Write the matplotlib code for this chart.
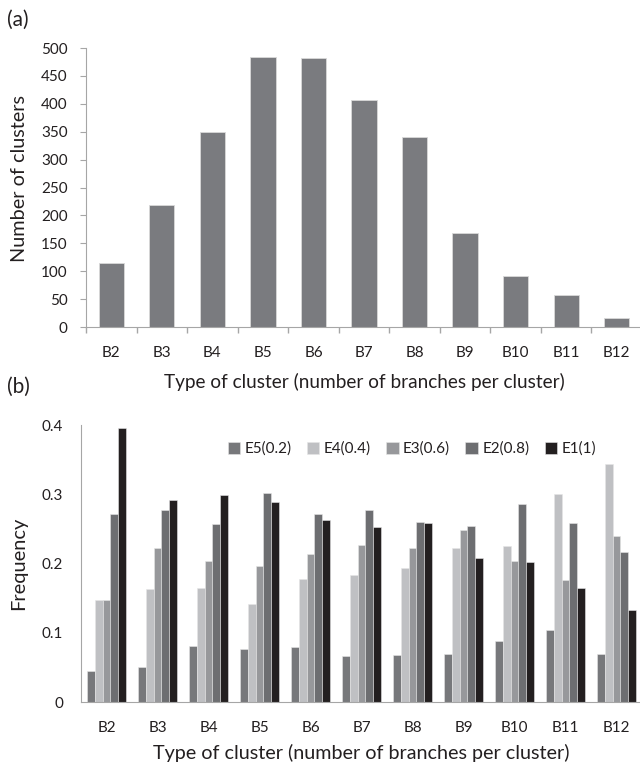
import matplotlib
matplotlib.use("Agg")
import matplotlib.pyplot as plt
import numpy as np

plt.rcParams['font.family'] = ['Lato', 'DejaVu Sans']

categories = ["B2", "B3", "B4", "B5", "B6", "B7", "B8", "B9", "B10", "B11", "B12"]
cluster_counts = [115, 219, 350, 483, 482, 407, 341, 168, 92, 57, 16]

series_names = ["E5(0.2)", "E4(0.4)", "E3(0.6)", "E2(0.8)", "E1(1)"]
e5 = [0.045, 0.051, 0.081, 0.076, 0.079, 0.066, 0.068, 0.070, 0.088, 0.104, 0.070]
e4 = [0.147, 0.163, 0.165, 0.141, 0.177, 0.183, 0.194, 0.223, 0.225, 0.301, 0.344]
e3 = [0.147, 0.223, 0.203, 0.196, 0.214, 0.227, 0.222, 0.248, 0.204, 0.176, 0.239]
e2 = [0.271, 0.277, 0.257, 0.302, 0.271, 0.277, 0.260, 0.254, 0.286, 0.259, 0.217]
e1 = [0.395, 0.292, 0.299, 0.289, 0.263, 0.252, 0.259, 0.208, 0.202, 0.165, 0.133]
series_values = [e5, e4, e3, e2, e1]
series_colors = ["#77787b", "#bfc0c3", "#97989b", "#6d6e71", "#231f20"]

W, H = 640, 766
fig = plt.figure(figsize=(W / 100, H / 100), dpi=100)
renderer = fig.canvas.get_renderer()

def rect(l, t, r, b):
    return [l / W, 1 - b / H, (r - l) / W, (b - t) / H]

def fit(txt, target_px, horizontal=True):
    bb = txt.get_window_extent(renderer=renderer)
    cur = bb.width if horizontal else bb.height
    txt.set_fontsize(txt.get_fontsize() * target_px / cur)

text_col = "#231f20"
spine_col = "#a6a6a6"
xlab = "Type of cluster (number of branches per cluster)"

# ---------- panel (a) ----------
ax1 = fig.add_axes(rect(86, 48, 642, 327))
x = np.arange(len(categories))
ax1.bar(x, cluster_counts, width=0.5, color="#7a7b7f", edgecolor="#d9d9d9", linewidth=0.6)
ax1.set_xlim(-0.5, len(categories) - 0.5)
ax1.set_ylim(0, 500)
ax1.set_yticks(np.arange(0, 501, 50))
ax1.set_xticks(x)
ax1.set_xticklabels(categories)
ax1.set_xticks(np.arange(-0.5, len(categories), 1), minor=True)
ax1.tick_params(axis='x', which='major', length=0, pad=14, labelsize=11, labelcolor=text_col)
ax1.tick_params(axis='x', which='minor', length=4, color=spine_col, width=1)
ax1.tick_params(axis='y', length=4.3, color=spine_col, pad=9, labelsize=11, labelcolor=text_col)
for s in ["top", "right"]:
    ax1.spines[s].set_visible(False)
for s in ["left", "bottom"]:
    ax1.spines[s].set_color(spine_col)
yl1 = fig.text(20 / W, 1 - 178.5 / H, "Number of clusters", rotation=90, fontsize=12,
               color=text_col, ha="center", va="center")
fit(yl1, 167, horizontal=False)
xl1 = fig.text(364 / W, 1 - 382 / H, xlab, fontsize=12.5, color=text_col, ha="center", va="center")
fit(xl1, 404)
fig.text(7 / W, 1 - 20 / H, "(a)", fontsize=15, color=text_col, va="center", ha="left")

# ---------- panel (b) ----------
ax2 = fig.add_axes(rect(81, 425, 642, 702))
n = len(series_names)
bw = 0.152
for i, (name, vals, col) in enumerate(zip(series_names, series_values, series_colors)):
    ax2.bar(x + (i - (n - 1) / 2) * bw, vals, width=bw, color=col,
            edgecolor="#e6e6e6", linewidth=0.4, label=name)
ax2.set_xlim(-0.5, len(categories) - 0.5)
ax2.set_ylim(0, 0.4)
ax2.set_yticks([0, 0.1, 0.2, 0.3, 0.4])
ax2.set_yticklabels(["0", "0.1", "0.2", "0.3", "0.4"])
ax2.set_xticks(x)
ax2.set_xticklabels(categories)
ax2.tick_params(axis='x', length=0, pad=14, labelsize=11, labelcolor=text_col)
ax2.tick_params(axis='y', length=0, pad=13, labelsize=11, labelcolor=text_col)
for s in ["top", "right"]:
    ax2.spines[s].set_visible(False)
for s in ["left", "bottom"]:
    ax2.spines[s].set_color(spine_col)
yl2 = fig.text(19 / W, 1 - 563.5 / H, "Frequency", rotation=90, fontsize=12,
               color=text_col, ha="center", va="center")
fit(yl2, 93, horizontal=False)
xl2 = fig.text(361.5 / W, 1 - 753 / H, xlab, fontsize=12.5, color=text_col, ha="center", va="center")
fit(xl2, 419)
leg = ax2.legend(ncol=5, loc="center", bbox_to_anchor=((412 - 81) / 561, (702 - 449) / 277),
                 frameon=False, fontsize=11, handlelength=0.8, handleheight=0.8,
                 handletextpad=0.3, columnspacing=1.0, borderaxespad=0)
for t in leg.get_texts():
    t.set_color(text_col)
fig.text(7 / W, 1 - 387 / H, "(b)", fontsize=15, color=text_col, va="center", ha="left")

fig.savefig("out.png", dpi=100)
